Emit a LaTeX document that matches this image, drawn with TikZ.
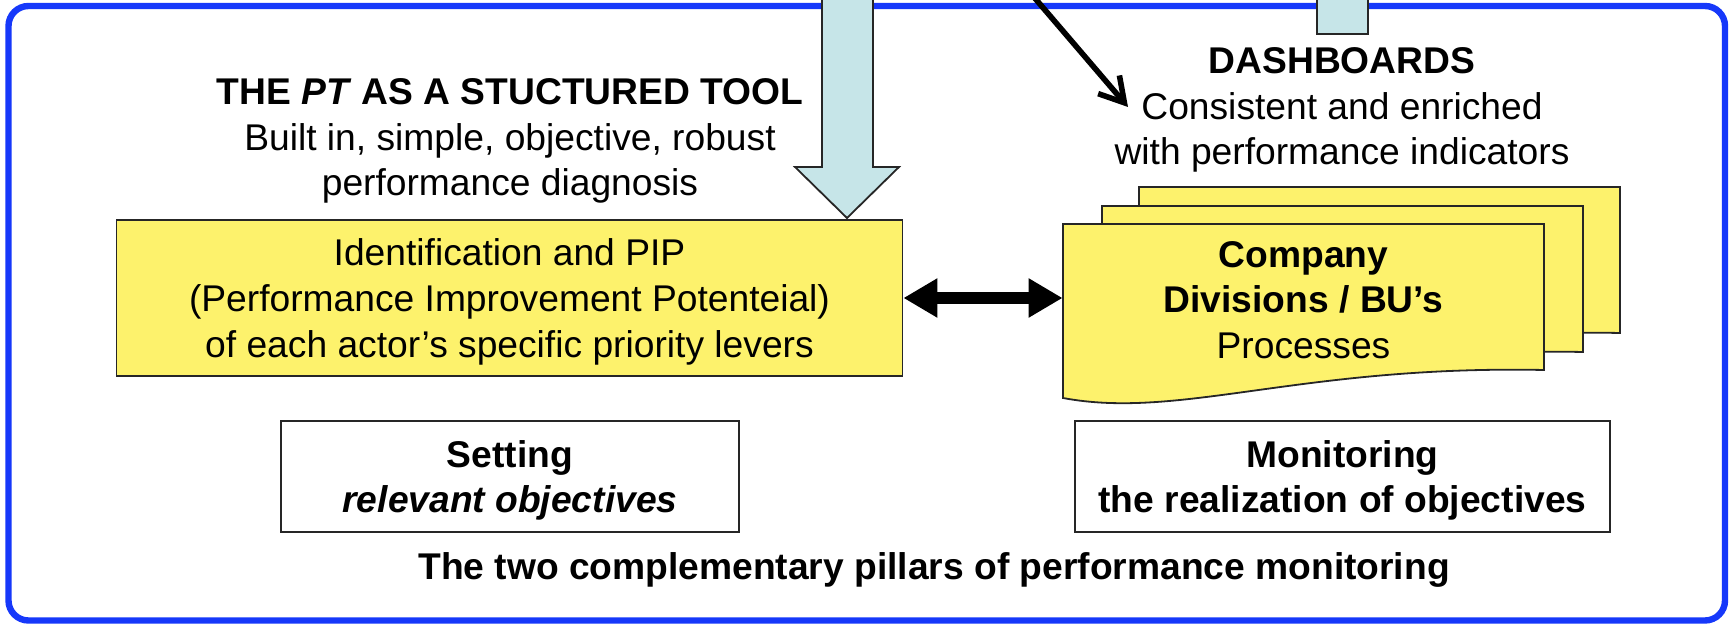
\documentclass[tikz,border=0pt]{standalone}
\usepackage{fontspec}
\setmainfont{Liberation Sans}
\usetikzlibrary{calc,arrows.meta}
\definecolor{frameblue}{RGB}{22,56,250}
\definecolor{leveryellow}{RGB}{253,242,108}
\definecolor{toolcyan}{RGB}{198,229,232}
\def\docsheet(#1,#2){\begin{scope}[shift={(#1,#2)}]\draw[fill=leveryellow, draw=black!85, line width=0.9pt] (0,0) -- (481,0) -- (481,146) .. controls (237,141) and (117,196) .. (0,174) -- cycle;\end{scope}}

\begin{document}
\begin{tikzpicture}[x=0.5pt, y=-0.5pt, every node/.style={font=\fontsize{18.6}{22.8}\selectfont, align=center, inner sep=0pt}]
	%%%%% START %%%%%
	\useasboundingbox (0,0) rectangle (1729,624);
	
	\draw[frameblue, line width=3.2pt, rounded corners=10pt] (8.5,6) rectangle (1725,620.5);
	
	\draw[fill=toolcyan, draw=black!85, line width=0.9pt] (822,-4) -- (822,167) -- (795,167) -- (847,218) -- (899,167) -- (873,167) -- (873,-4) -- cycle;
	\draw[fill=toolcyan, draw=black!85, line width=0.9pt] (1317,-4) rectangle (1368,34);
	
	\coordinate (feed) at (1033,-4);
	\coordinate (feedtip) at (1128,107);
	\draw[line width=2.8pt, -{Straight Barb[length=12pt, width=14pt]}] (feed) -- (feedtip);
	
	\node (tooltitle) at (510,141) {\textbf{THE \textit{PT} AS A STUCTURED TOOL}\\Built in, simple, objective, robust\\performance diagnosis};
	\node (dashtitle) at (1342,110) {\textbf{DASHBOARDS}\\Consistent and enriched\\with performance indicators};
	
	\node[draw=black!85, fill=leveryellow, line width=0.9pt, minimum width=393pt, minimum height=78pt, text depth=0pt] (pip) at (509.5,298) {Identification and PIP\\(Performance Improvement Potenteial)\\of each actor’s specific priority levers};
	
	\docsheet(1139,187)
	\docsheet(1102,206)
	\docsheet(1063,224)
	\node[minimum width=240.5pt, minimum height=73pt] (front) at (1303.5,300) {\textbf{Company}\\\textbf{Divisions / BU’s}\\Processes};
	
	\draw[line width=6pt, {Triangle[length=17pt, width=18.5pt]}-{Triangle[length=17pt, width=18.5pt]}] (pip.east) -- (pip.east -| front.west);
	
	\node[draw=black!85, line width=0.8pt, minimum width=229pt, minimum height=55.5pt, text depth=0pt] (setting) at (510,476.5) {\textbf{Setting}\\\textbf{\textit{relevant objectives}}};
	\node[draw=black!85, line width=0.8pt, minimum width=267.5pt, minimum height=55.5pt, text depth=0pt] (monitoring) at (1342.5,476.5) {\textbf{Monitoring}\\\textbf{the realization of objectives}};
	
	\node[anchor=base] (pillars) at (934,580) {\textbf{The two complementary pillars of performance monitoring}};
	
	%%%%% END %%%%%
\end{tikzpicture}
\end{document}
